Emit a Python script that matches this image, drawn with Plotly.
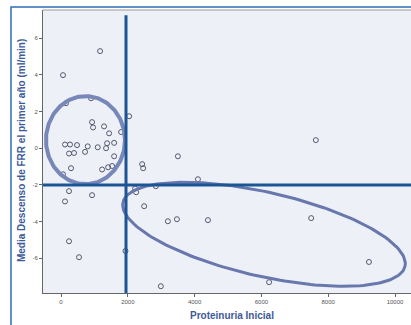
import numpy as np
import plotly.graph_objects as go

# Data points: initial proteinuria vs mean GFR decline in first year
proteinuria = [1170, 60, 2040, 930, 960, 1290, 1440, 1800, 1590, 1380, 1350, 1100,
               800, 720, 120, 270, 480, 240, 390, 1590, 300, 1230, 1410, 1530,
               900, 150, 60, 2430, 2460, 3500, 4100, 2840, 2220, 2250, 2490, 3200,
               3470, 4400, 2990, 1930, 240, 930, 120, 240, 540, 7630, 7490, 9220, 6230]
descenso_frr = [5.29, 3.98, 1.74, 1.42, 1.13, 1.19, 0.81, 0.88, 0.29, 0.27, 0.0, 0.05,
                0.1, -0.2, 0.2, 0.2, 0.17, -0.29, -0.26, -0.44, -1.09, -1.16, -1.04, -0.97,
                2.72, 2.45, -1.42, -0.87, -1.09, -0.44, -1.69, -2.07, -2.2, -2.4, -3.16, -3.98,
                -3.87, -3.92, -7.52, -5.6, -2.34, -2.56, -2.9, -5.07, -5.94, 0.44, -3.81, -6.2, -7.3]

x_ticks = [0, 2000, 4000, 6000, 8000, 10000]
y_ticks = [-8, -6, -4, -2, 0, 2, 4, 6]

x_title = "Proteinuria Inicial"
y_title = "Media Descenso de FRR el primer año (ml/min)"

# Reference lines
x_cut = 1946
y_cut = -2

# Group ellipses (center, axis vectors in data units)
circ_c = (733, 0.44)
circ_r = (1183, 2.4)
ell_c = (6078, -4.69)
ell_a = (4221, -1.745)
ell_b = (-278.5, -2.232)

x_range = [-539, 10479]
y_range = [-7.89, 7.53]

t = np.linspace(0, 2 * np.pi, 200)
cx = circ_c[0] + circ_r[0] * np.cos(t)
cy = circ_c[1] + circ_r[1] * np.sin(t)
ex = ell_c[0] + ell_a[0] * np.cos(t) + ell_b[0] * np.sin(t)
ey = ell_c[1] + ell_a[1] * np.cos(t) + ell_b[1] * np.sin(t)

fig = go.Figure()
fig.add_trace(go.Scatter(x=proteinuria, y=descenso_frr, mode="markers",
                         marker=dict(symbol="circle-open", size=5,
                                     color="#55596e", line=dict(width=1, color="#55596e")),
                         showlegend=False, hoverinfo="skip"))
fig.add_trace(go.Scatter(x=cx, y=cy, mode="lines",
                         line=dict(color="#7787b8", width=4), showlegend=False, hoverinfo="skip"))
fig.add_trace(go.Scatter(x=ex, y=ey, mode="lines",
                         line=dict(color="#6878ad", width=3), showlegend=False, hoverinfo="skip"))
fig.add_trace(go.Scatter(x=[x_cut, x_cut], y=[y_range[0], 7.25], mode="lines",
                         line=dict(color="#1c5596", width=3), showlegend=False, hoverinfo="skip"))
fig.add_trace(go.Scatter(x=[x_range[0], x_range[1]], y=[y_cut, y_cut], mode="lines",
                         line=dict(color="#1c5596", width=3), showlegend=False, hoverinfo="skip"))

fig.update_layout(
    width=411, height=325,
    margin=dict(l=43, r=0, t=10, b=32, autoexpand=False),
    paper_bgcolor="white",
    plot_bgcolor="#eef0f7",
    font=dict(family="Liberation Sans, Arial, sans-serif", size=6, color="#555555"),
    shapes=[dict(type="rect", xref="paper", yref="paper", x0=-0.087, x1=1.2, y0=-0.2, y1=1.0106,
                 line=dict(color="#2f6db5", width=1.5), fillcolor="rgba(0,0,0,0)", layer="below"),
            dict(type="line", xref="paper", yref="paper", x0=0, x1=1, y0=1, y1=1,
                 line=dict(color="#999999", width=1))],
    annotations=[
        dict(text="<b>" + x_title + "</b>", xref="paper", yref="paper", x=0.514, y=-0.081,
             showarrow=False, font=dict(size=10, color="#3d5a99"), xanchor="center", yanchor="middle"),
        dict(text="<b>" + y_title + "</b>", xref="paper", yref="paper", x=-0.0598, y=0.505,
             showarrow=False, textangle=-90, font=dict(size=10, color="#3d5a99"),
             xanchor="center", yanchor="middle"),
    ],
)
fig.update_xaxes(range=x_range, tickvals=x_ticks, ticktext=[str(v) for v in x_ticks],
                 automargin=False,
                 showgrid=False, zeroline=False, showline=True, linecolor="#666666", linewidth=1,
                 ticks="outside", ticklen=3, tickcolor="#666666")
fig.update_yaxes(range=y_range, tickvals=y_ticks, ticktext=[str(v) for v in y_ticks],
                 automargin=False,
                 showgrid=False, zeroline=False, showline=True, linecolor="#666666", linewidth=1,
                 ticks="outside", ticklen=3, tickcolor="#666666")

fig.write_html("out.html", config={"displayModeBar": False, "staticPlot": True},
               post_script="document.body.style.margin='0';document.body.style.overflow='hidden';")
